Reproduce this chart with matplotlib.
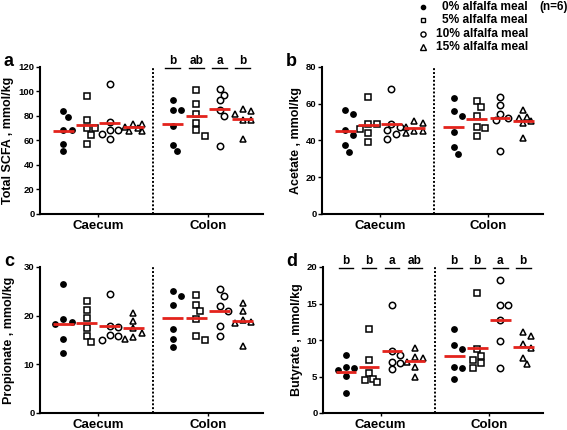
import numpy as np
import matplotlib
matplotlib.use("Agg")
import matplotlib.pyplot as plt

plt.rcParams.update({
    "font.family": ["Liberation Sans", "DejaVu Sans"],
    "font.weight": "bold",
    "axes.labelweight": "bold",
})

W, H = 567, 430
RED = "#e3231c"

DIETS = ["0% alfalfa meal", "5% alfalfa meal", "10% alfalfa meal", "15% alfalfa meal"]
SITES = ["Caecum", "Colon"]
MARKERS = [("o", "black", 3.8), ("s", "white", 4.4), ("o", "white", 4.6), ("^", "white", 4.8)]

# ---- data (mmol/kg), 6 animals per diet ----
total_caecum = [[78.8, 84.2, 68.2, 68.2, 57.3, 51.5],
                [96.5, 76.4, 70.1, 70.1, 64.6, 57.3],
                [106.0, 75.5, 68.7, 68.7, 65.5, 61.1],
                [73.6, 73.6, 71.4, 67.9, 67.9, 69.8]]
total_colon = [[92.7, 84.5, 85.1, 72.0, 51.5, 56.4],
               [101.5, 89.7, 81.5, 74.2, 68.2, 63.8],
               [102.3, 97.4, 92.7, 85.1, 80.2, 55.9],
               [84.3, 85.6, 81.8, 76.9, 76.9, 61.1]]
acetate_caecum = [[54.5, 56.4, 45.5, 43.1, 37.3, 33.6],
                  [63.5, 49.1, 49.1, 46.4, 44.0, 39.1],
                  [68.0, 49.1, 47.6, 45.5, 43.6, 40.7],
                  [50.4, 49.5, 47.6, 44.0, 44.9, 45.3]]
acetate_colon = [[63.1, 53.5, 55.8, 44.4, 36.2, 32.5],
                 [61.6, 58.2, 53.5, 47.6, 46.7, 42.5],
                 [63.5, 59.1, 54.5, 52.0, 51.3, 34.5],
                 [56.8, 53.0, 52.0, 50.5, 49.5, 41.5]]
propionate_caecum = [[26.5, 19.3, 18.6, 18.2, 15.3, 12.4],
                     [23.1, 21.2, 19.5, 17.4, 15.8, 14.5],
                     [24.5, 17.9, 17.6, 16.0, 15.8, 14.9],
                     [20.5, 19.0, 17.4, 16.5, 15.6, 15.3]]
propionate_colon = [[25.1, 24.1, 22.2, 17.3, 15.3, 13.6],
                    [24.3, 22.2, 21.0, 19.3, 15.8, 15.1],
                    [25.5, 24.1, 21.9, 21.0, 17.8, 15.8],
                    [22.6, 21.0, 19.1, 18.4, 18.6, 13.8]]
butyrate_caecum = [[7.9, 6.3, 6.1, 5.9, 5.1, 2.8],
                   [11.5, 7.2, 5.5, 4.7, 4.3, 4.5],
                   [14.8, 8.5, 7.9, 7.0, 6.8, 6.0],
                   [8.9, 7.7, 7.6, 7.0, 6.3, 4.9]]
butyrate_colon = [[11.5, 9.3, 8.7, 6.3, 6.1, 4.7],
                  [16.4, 8.7, 7.8, 7.3, 6.8, 6.2],
                  [18.2, 14.8, 14.8, 12.8, 9.8, 6.2],
                  [10.5, 11.1, 9.4, 8.9, 7.5, 6.7]]

total_letters = [None, ["b", "ab", "a", "b"]]
butyrate_letters = [["b", "b", "a", "ab"], ["b", "b", "a", "b"]]

# ---- layout (pixel boxes: left, right, top, bottom) ----
POS = [[1, 2, 3, 4], [5.7, 6.7, 7.7, 8.7]]
XLIM = (0, 9.56)
DIVIDER = 4.85
SITE_TICKS = [2.5, 7.2]

fig = plt.figure(figsize=(W / 100, H / 100), dpi=100)


def add_ax(l, r, t, b):
    return fig.add_axes([l / W, 1 - b / H, (r - l) / W, (b - t) / H])


def swarm(vals, x0, ppx, ppy, diam=7.0, step=0.18):
    """Small beeswarm: nudge colliding points sideways, overlap allowed."""
    cands = [0, step, -step, 2 * step, -2 * step]
    placed = []
    xs = np.zeros(len(vals))
    for i in np.argsort(vals)[::-1]:
        v = vals[i]
        best, best_d = 0, -1
        for off in cands:
            d = min([np.hypot((off - po) * ppx, (v - pv) * ppy) for po, pv in placed],
                    default=99)
            if d >= diam:
                best = off
                break
            if d > best_d:
                best, best_d = off, d
        placed.append((best, v))
        xs[i] = x0 + best
    return xs


def panel(box, caecum, colon, ymax, ystep, ylabel, letter, stats=(None, None), lpad=4):
    l, r, t, b = box
    ax = add_ax(*box)
    ax.set_xlim(*XLIM)
    ax.set_ylim(0, ymax)
    ppx = (r - l) / (XLIM[1] - XLIM[0])
    ppy = (b - t) / ymax
    for s, site in enumerate([caecum, colon]):
        for g, vals in enumerate(site):
            vals = np.asarray(vals)
            x0 = POS[s][g]
            xs = swarm(vals, x0, ppx, ppy)
            m, fc, ms = MARKERS[g]
            ax.plot(xs, vals, ls="none", marker=m, ms=ms, mfc=fc, mec="black",
                    mew=1.1, zorder=3, clip_on=False)
            ax.plot([x0 - 0.45, x0 + 0.45], [vals.mean()] * 2, color=RED, lw=2.0,
                    zorder=4, solid_capstyle="butt")
        if stats[s]:
            for g, lab in enumerate(stats[s]):
                x0 = POS[s][g]
                ax.plot([x0 - 0.32, x0 + 0.32], [ymax * 0.995] * 2, color="black",
                        lw=1.0, clip_on=False)
                ax.text(x0, ymax * 1.0, lab, ha="center", va="bottom", fontsize=8.5,
                        fontweight="bold")
    ax.axvline(DIVIDER, color="black", lw=1.4, ls=(0, (1, 1)))
    for sp in ("top", "right"):
        ax.spines[sp].set_visible(False)
    for sp in ("left", "bottom"):
        ax.spines[sp].set_linewidth(1.5)
    ax.set_yticks(np.arange(0, ymax + 0.01, ystep))
    ax.set_xticks(SITE_TICKS)
    ax.set_xticklabels(SITES)
    ax.tick_params(axis="y", length=3, width=1.0, labelsize=6.8, pad=1)
    ax.tick_params(axis="x", length=2, width=1.0, labelsize=9.5, pad=2)
    for lab in ax.get_yticklabels() + ax.get_xticklabels():
        lab.set_fontweight("bold")
    ax.set_ylabel(ylabel, fontsize=9, fontweight="bold", labelpad=lpad)
    ax.text(-0.14, 1.04, letter, transform=ax.transAxes, fontsize=13,
            fontweight="bold", ha="center", va="center")
    return ax


panel((40, 263, 67, 214), total_caecum, total_colon, 120, 20,
      "Total SCFA , mmol/kg", "a", stats=total_letters, lpad=3)
panel((322, 543, 67, 214), acetate_caecum, acetate_colon, 80, 20,
      "Acetate , mmol/kg", "b", lpad=3)
panel((40, 263, 267, 413), propionate_caecum, propionate_colon, 30, 10,
      "Propionate , mmol/kg", "c", lpad=6)
panel((323, 543, 267, 413), butyrate_caecum, butyrate_colon, 20, 5,
      "Butyrate , mmol/kg", "d", stats=butyrate_letters, lpad=3)

# ---- legend, drawn in figure pixel space ----
lg = fig.add_axes([0, 0, 1, 1], facecolor="none")
lg.set_xlim(0, W)
lg.set_ylim(H, 0)
lg.axis("off")
for i, (lab, (m, fc, ms)) in enumerate(zip(DIETS, MARKERS)):
    y = 7 + i * 13.3
    lg.plot([423], [y], ls="none", marker=m, ms=ms * 0.8, mfc=fc, mec="black", mew=1.0)
    lg.text(528, y, lab, ha="right", va="center", fontsize=8.6, fontweight="bold")
lg.text(539, 7, "(n=6)", ha="left", va="center", fontsize=8.4, fontweight="bold")

fig.savefig("out.png", dpi=100)
